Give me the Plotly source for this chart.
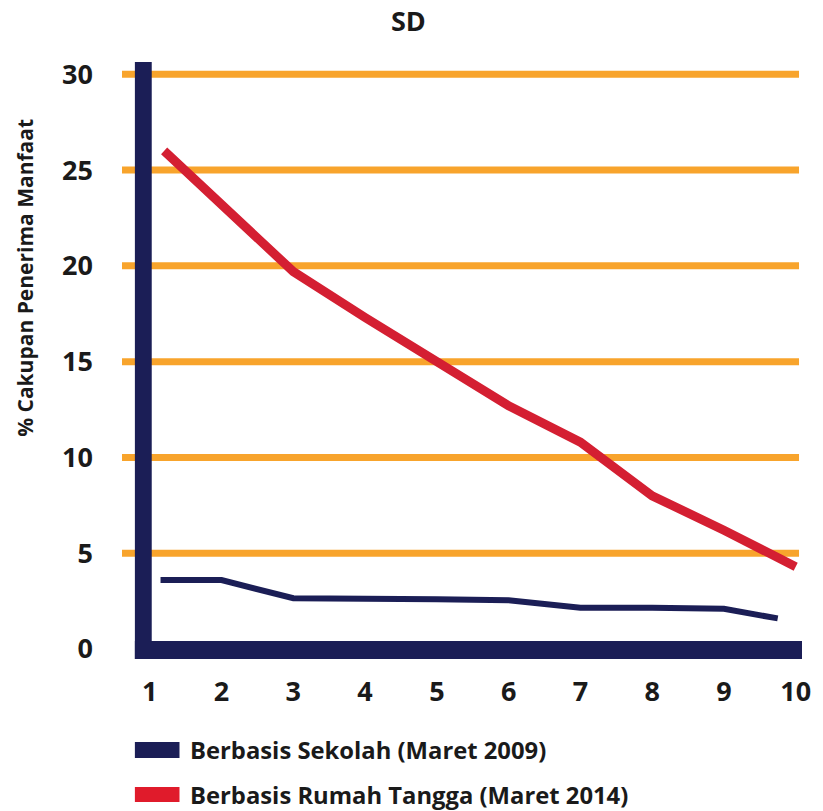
import plotly.graph_objects as go

# Series data
x_labels = [1, 2, 3, 4, 5, 6, 7, 8, 9, 10]
y_ticks = [0, 5, 10, 15, 20, 25, 30]

sekolah_x = [1.15, 2, 3, 4, 5, 6, 7, 8, 9, 9.75]
sekolah_y = [3.6, 3.6, 2.65, 2.65, 2.6, 2.55, 2.15, 2.15, 2.1, 1.6]

rumah_x = [1.2, 2, 3, 4, 5, 6, 7, 8, 9, 10]
rumah_y = [26.0, 23.2, 19.7, 17.3, 15.0, 12.7, 10.8, 8.0, 6.2, 4.3]

series_names = ["Berbasis Sekolah (Maret 2009)", "Berbasis Rumah Tangga (Maret 2014)"]

NAVY = "#1B1E56"
RED = "#D41F32"
LEGEND_RED = "#E01B2B"
ORANGE = "#F8A42C"
TEXT = "#1a1a1a"
FONT = "Open Sans"

W, H = 823, 811
L, R, T, B = 122, 15, 62, 152
PW, PH = W - L - R, H - T - B


def px(xp):
    return (xp - L) / PW


def py(yp):
    return (H - B - yp) / PH


fig = go.Figure()
fig.add_trace(go.Scatter(x=sekolah_x, y=sekolah_y, mode="lines", name=series_names[0],
                         line=dict(color=NAVY, width=6)))
fig.add_trace(go.Scatter(x=rumah_x, y=rumah_y, mode="lines", name=series_names[1],
                         line=dict(color=RED, width=9)))

# orange gridlines at every labelled value above zero
shapes = [
    dict(type="line", xref="paper", yref="y", x0=0, x1=px(805), y0=v, y1=v,
         line=dict(color=ORANGE, width=7), layer="below")
    for v in y_ticks if v > 0
]

shapes += [
    # thick vertical axis bar
    dict(type="rect", xref="paper", yref="paper", x0=px(135), x1=px(152), y0=0, y1=1,
         fillcolor=NAVY, line=dict(width=0), layer="above"),
    # thick horizontal axis bar
    dict(type="rect", xref="paper", yref="paper", x0=px(135), x1=1, y0=0, y1=py(641),
         fillcolor=NAVY, line=dict(width=0), layer="above"),
    # legend swatches
    dict(type="rect", xref="paper", yref="paper", x0=px(135), x1=px(180), y0=py(758), y1=py(742),
         fillcolor=NAVY, line=dict(width=0)),
    dict(type="rect", xref="paper", yref="paper", x0=px(135), x1=px(180), y0=py(802), y1=py(787),
         fillcolor=LEGEND_RED, line=dict(width=0)),
]

annotations = [
    dict(text="<b>SD</b>", xref="paper", yref="paper", x=px(411), y=py(21),
         xanchor="center", yanchor="middle", showarrow=False,
         font=dict(family=FONT, size=27, color=TEXT)),
    dict(text="<b>% Cakupan Penerima Manfaat</b>", xref="paper", yref="paper",
         x=px(24), y=py(278), xanchor="center", yanchor="middle", textangle=-90,
         showarrow=False, font=dict(family=FONT, size=21, color=TEXT)),
    dict(text="<b>" + series_names[0] + "</b>", xref="paper", yref="paper",
         x=px(189), y=py(750), xanchor="left", yanchor="middle", showarrow=False,
         font=dict(family=FONT, size=23.8, color=TEXT)),
    dict(text="<b>" + series_names[1] + "</b>", xref="paper", yref="paper",
         x=px(189), y=py(795), xanchor="left", yanchor="middle", showarrow=False,
         font=dict(family=FONT, size=23.8, color=TEXT)),
]

fig.update_layout(
    width=W, height=H,
    margin=dict(l=L, r=R, t=T, b=B, pad=0),
    paper_bgcolor="white", plot_bgcolor="white",
    showlegend=False,
    shapes=shapes,
    annotations=annotations,
    xaxis=dict(range=[0.613, 10.088], tickvals=x_labels, ticktext=[str(v) for v in x_labels],
               showgrid=False, zeroline=False, showline=False, ticks="",
               ticklabelstandoff=14,
               tickfont=dict(family=FONT, size=27, color=TEXT, weight="bold")),
    yaxis=dict(range=[-0.52, 30.64], tickvals=y_ticks, ticktext=[str(v) for v in y_ticks],
               showgrid=False, zeroline=False,
               showline=False, ticks="", ticklabelstandoff=28,
               tickfont=dict(family=FONT, size=27, color=TEXT, weight="bold")),
)

fig.write_html("out.html")
